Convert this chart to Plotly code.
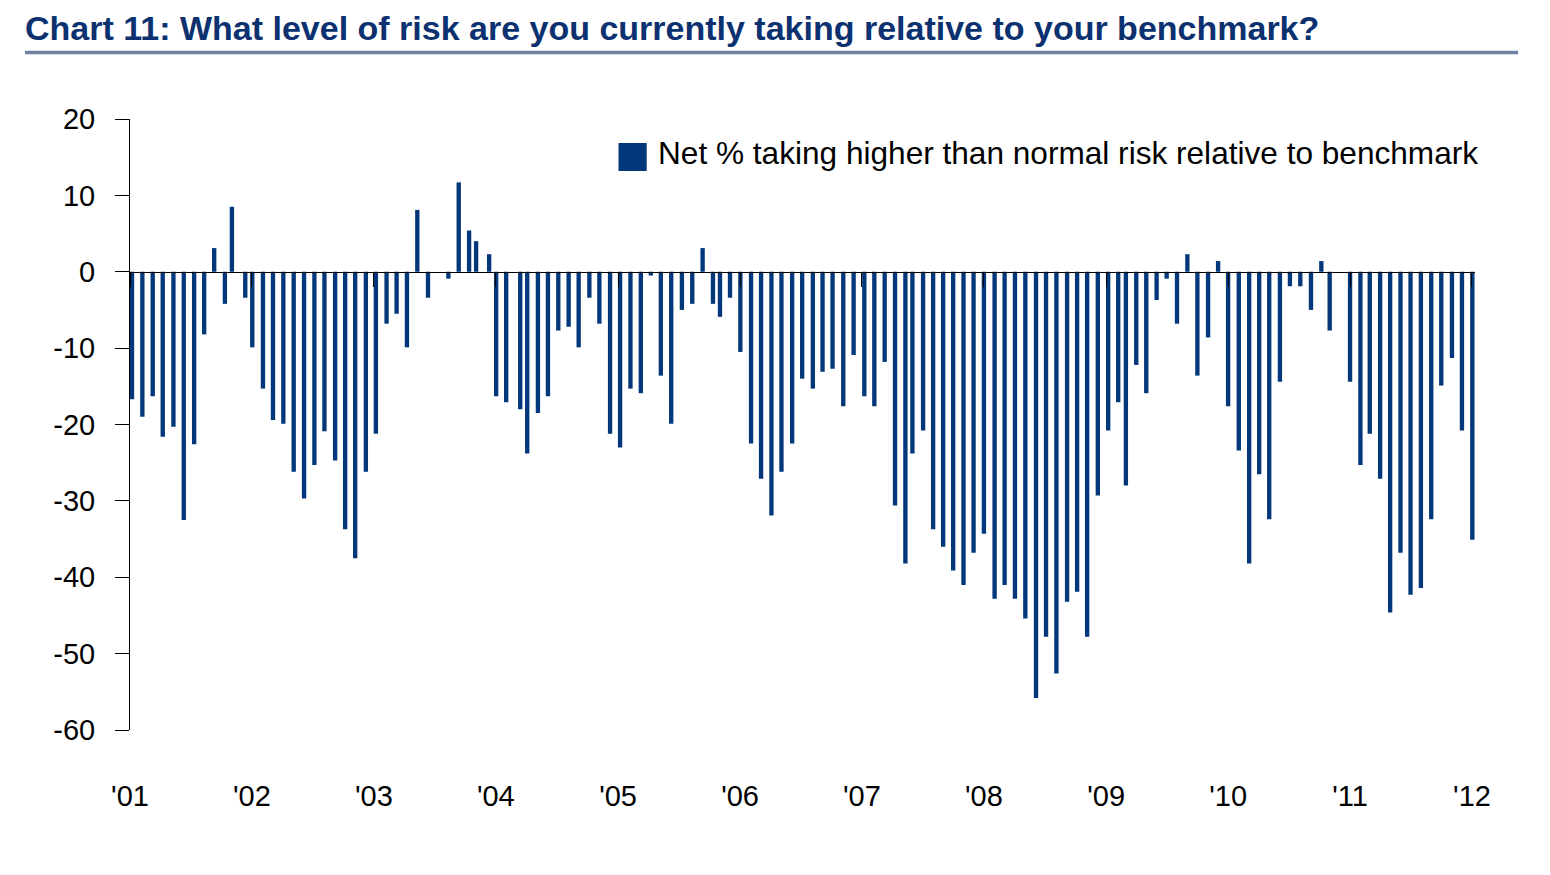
import plotly.graph_objects as go

# Survey dates (one per month; Jul-2003 and Dec-2010 missing)
dates = [
    "2001-01-07", "2001-02-07", "2001-03-10", "2001-04-09", "2001-05-11", "2001-06-11",
    "2001-07-12", "2001-08-11", "2001-09-10", "2001-10-12", "2001-11-02", "2001-12-12",
    "2002-01-02", "2002-02-03", "2002-03-05", "2002-04-05", "2002-05-06", "2002-06-06",
    "2002-07-07", "2002-08-06", "2002-09-07", "2002-10-07", "2002-11-06", "2002-12-08",
    "2003-01-07", "2003-02-08", "2003-03-10", "2003-04-10", "2003-05-11", "2003-06-12",
    "2003-08-12", "2003-09-12", "2003-10-13", "2003-11-03", "2003-12-12",
    "2004-01-02", "2004-02-01", "2004-03-14", "2004-04-04", "2004-05-06", "2004-06-05",
    "2004-07-06", "2004-08-06", "2004-09-05", "2004-10-07", "2004-11-06", "2004-12-08",
    "2005-01-07", "2005-02-07", "2005-03-10", "2005-04-09", "2005-05-09", "2005-06-09",
    "2005-07-11", "2005-08-11", "2005-09-11", "2005-10-12", "2005-11-02", "2005-12-02",
    "2006-01-02", "2006-02-03", "2006-03-05", "2006-04-05", "2006-05-05", "2006-06-06",
    "2006-07-06", "2006-08-07", "2006-09-05", "2006-10-05", "2006-11-06", "2006-12-07",
    "2007-01-08", "2007-02-07", "2007-03-10", "2007-04-10", "2007-05-11", "2007-06-01",
    "2007-07-03", "2007-08-02", "2007-09-01", "2007-10-01", "2007-11-01", "2007-12-01",
    "2008-01-01", "2008-02-02", "2008-03-03", "2008-04-03", "2008-05-04", "2008-06-05",
    "2008-07-05", "2008-08-05", "2008-09-06", "2008-10-06", "2008-11-05", "2008-12-07",
    "2009-01-07", "2009-02-06", "2009-03-01", "2009-04-01", "2009-05-01", "2009-06-01",
    "2009-07-01", "2009-08-01", "2009-09-01", "2009-10-01", "2009-11-02", "2009-12-02",
    "2010-01-01", "2010-02-02", "2010-03-05", "2010-04-04", "2010-05-04", "2010-06-05",
    "2010-07-05", "2010-08-05", "2010-09-06", "2010-10-07", "2010-11-01",
    "2011-01-01", "2011-02-01", "2011-03-01", "2011-04-01", "2011-05-01", "2011-06-01",
    "2011-07-01", "2011-08-01", "2011-09-01", "2011-10-01", "2011-11-02", "2011-12-02",
    "2012-01-02",
]

# Net % taking higher than normal risk relative to benchmark
net_risk = [
    -16.7, -19.0, -16.3, -21.6, -20.3, -32.5, -22.6, -8.2, 3.1, -4.2, 8.5, -3.4,
    -9.9, -15.3, -19.4, -19.9, -26.2, -29.7, -25.3, -20.9, -24.7, -33.7, -37.5, -26.2,
    -21.2, -6.8, -5.5, -9.9, 8.1, -3.4, -0.9, 11.7, 5.4, 4.0, 2.3,
    -16.3, -17.1, -18.0, -23.8, -18.5, -16.3, -7.7, -7.2, -9.9, -3.4, -6.8, -21.2,
    -23.0, -15.3, -15.9, -0.5, -13.6, -19.9, -5.0, -4.2, 3.1, -4.2, -5.9, -3.4,
    -10.5, -22.5, -27.1, -31.9, -26.2, -22.5, -14.0, -15.3, -13.1, -12.7, -17.6, -10.9,
    -16.3, -17.6, -11.8, -30.6, -38.2, -23.8, -20.8, -33.7, -36.0, -39.1, -41.0, -36.8,
    -34.3, -42.8, -41.0, -42.8, -45.4, -55.8, -47.8, -52.6, -43.2, -41.9, -47.8, -29.3,
    -20.8, -17.1, -28.0, -12.2, -15.9, -3.7, -0.9, -6.8, 2.3, -13.6, -8.6, 1.4,
    -17.6, -23.4, -38.2, -26.5, -32.4, -14.4, -1.9, -1.9, -5.0, 1.4, -7.7,
    -14.4, -25.3, -21.2, -27.1, -44.6, -36.8, -42.3, -41.4, -32.4, -14.9, -11.3, -20.8,
    -35.1,
]

series_name = "Net % taking higher than normal risk relative to benchmark"
title_text = "Chart 11: What level of risk are you currently taking relative to your benchmark?"
y_ticks = [20, 10, 0, -10, -20, -30, -40, -50, -60]
y_tick_labels = ["20", "10", "0", "-10", "-20", "-30", "-40", "-50", "-60"]

BAR = "#02387B"
TITLE = "#0C3170"
RULE = "#6E84A2"
FONT = "Liberation Sans, Arial, sans-serif"

DAY_MS = 86400000

fig = go.Figure()
fig.add_trace(go.Bar(
    x=dates, y=net_risk, name=series_name,
    width=13 * DAY_MS,
    marker=dict(color=BAR, line=dict(width=0)),
    showlegend=False,
))

fig.update_layout(
    width=1550, height=875,
    margin=dict(l=130, r=75, t=119, b=145),
    paper_bgcolor="white", plot_bgcolor="white",
    showlegend=False,
    title=dict(
        text="<b>" + title_text + "</b>",
        font=dict(family=FONT, size=34, color=TITLE),
        x=25 / 1550, xref="container", xanchor="left",
        y=1 - 28 / 875, yref="container", yanchor="middle",
    ),
    xaxis=dict(
        type="date",
        range=["2001-01-01", "2012-01-10"],
        anchor="free", position=0.75,
        showline=True, linecolor="black", linewidth=1,
        ticks="outside", ticklen=14, tickwidth=1, tickcolor="black",
        tick0="2001-01-01", dtick="M12", tickformat="'%y",
        tickfont=dict(family=FONT, size=29, color="black"),
        ticklabelstandoff=484,
        showgrid=False, zeroline=False, automargin=False,
    ),
    yaxis=dict(
        range=[-60, 20],
        tickvals=y_ticks, ticktext=y_tick_labels,
        showline=True, linecolor="black", linewidth=1,
        ticks="outside", ticklen=14, tickwidth=1, tickcolor="black",
        tickfont=dict(family=FONT, size=29, color="black"),
        ticklabelstandoff=14,
        showgrid=False, zeroline=False, automargin=False,
    ),
)

# title rule
fig.add_shape(type="line", xref="paper", yref="paper",
              x0=-105 / 1345, x1=1388 / 1345, y0=677.5 / 611, y1=677.5 / 611,
              line=dict(color=RULE, width=3.5))

# legend (swatch + label)
fig.add_shape(type="rect", xref="paper", yref="paper",
              x0=488.5 / 1345, x1=516.7 / 1345, y0=559 / 611, y1=587 / 611,
              fillcolor=BAR, line=dict(width=0))
fig.add_annotation(text=series_name, xref="paper", yref="paper",
                   x=526 / 1345, y=577 / 611, xanchor="left", yanchor="middle",
                   showarrow=False,
                   font=dict(family=FONT, size=31.6, color="black"))

fig.write_html("out.html")
